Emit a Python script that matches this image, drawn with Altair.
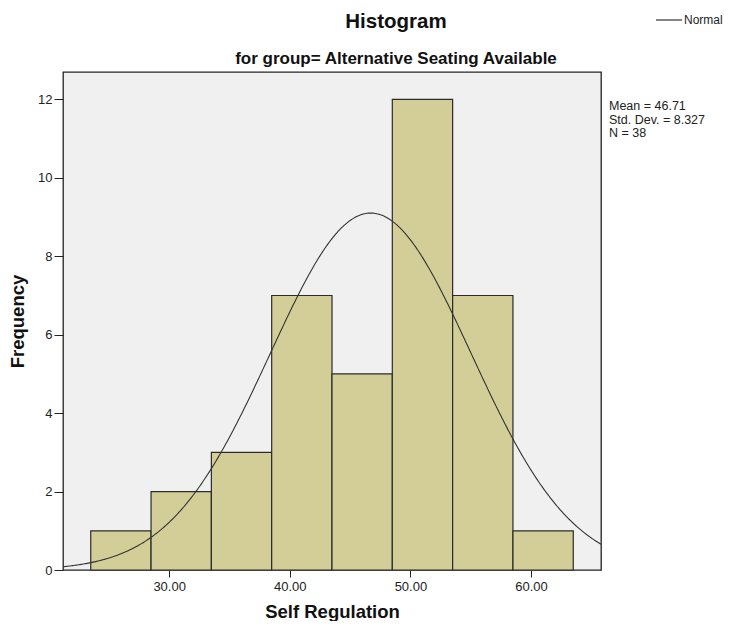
import altair as alt
import pandas as pd

# ---- data ----
bin_start = [23.5, 28.5, 33.5, 38.5, 43.5, 48.5, 53.5, 58.5]
bin_end = [28.5, 33.5, 38.5, 43.5, 48.5, 53.5, 58.5, 63.5]
counts = [1, 2, 3, 7, 5, 12, 7, 1]
x_ticks = [30, 40, 50, 60]
y_ticks = [0, 2, 4, 6, 8, 10, 12]
mean = 46.71
sd = 8.327
n = 38
bin_width = 5
stats_lines = ["Mean = 46.71", "Std. Dev. = 8.327", "N = 38"]
title_text = "Histogram"
subtitle_text = "for group= Alternative Seating Available"
legend_label = "Normal"

FONT = "Liberation Sans"

bars_df = pd.DataFrame({"start": bin_start, "end": bin_end, "count": counts})
one = pd.DataFrame({"k": [0]})

xscale = alt.Scale(domain=[21.2, 65.8], nice=False, zero=False)
yscale = alt.Scale(domain=[0, 12.7], nice=False)

xaxis = alt.Axis(values=x_ticks, format=".2f", title="Self Regulation", grid=False,
                 domain=False, tickColor="#222", tickSize=7, labelFontSize=13,
                 labelColor="#222", labelFont=FONT, labelPadding=3,
                 titleFont=FONT, titleFontSize=18.5, titleFontWeight="bold",
                 titleColor="#111", titlePadding=9)
yaxis = alt.Axis(values=y_ticks, title="Frequency", grid=False, domain=False,
                 tickColor="#222", tickSize=9, labelFontSize=13, labelColor="#222",
                 labelFont=FONT, labelPadding=2, titleFont=FONT, titleFontSize=18.5,
                 titleFontWeight="bold", titleColor="#111", titlePadding=10)

bars = alt.Chart(bars_df).mark_rect(fill="#d3ce97", stroke="#2b2b2b", strokeWidth=1.2).encode(
    x=alt.X("start:Q", scale=xscale, axis=xaxis),
    x2="end:Q",
    y=alt.Y("count:Q", scale=yscale, axis=yaxis),
    y2=alt.datum(0),
)

curve = alt.Chart(alt.sequence(21.2, 65.85, 0.1, as_="x")).transform_calculate(
    y=f"{n * bin_width} * exp(-0.5 * pow((datum.x - {mean}) / {sd}, 2)) / ({sd} * sqrt(2 * PI))",
).mark_line(strokeWidth=1.1, clip=True, color="#333333").encode(
    x=alt.X("x:Q", scale=xscale),
    y=alt.Y("y:Q", scale=yscale),
)

stats = alt.Chart(pd.DataFrame({"t": [stats_lines]})).mark_text(
    align="left", baseline="top", font=FONT, fontSize=12.5, color="#222", lineHeight=13.5
).encode(text="t:N", x=alt.value(546), y=alt.value(28))

title = alt.Chart(pd.DataFrame({"t": [title_text]})).mark_text(
    align="center", baseline="middle", font=FONT, fontSize=20.5, fontWeight="bold", color="#111"
).encode(text="t:N", x=alt.value(333), y=alt.value(-50))

subtitle = alt.Chart(pd.DataFrame({"t": [subtitle_text]})).mark_text(
    align="center", baseline="middle", font=FONT, fontSize=17, fontWeight="bold", color="#111"
).encode(text="t:N", x=alt.value(333), y=alt.value(-13))

leg_line = alt.Chart(one).mark_rule(color="#333333", strokeWidth=1.2).encode(
    x=alt.value(593), x2=alt.value(619), y=alt.value(-52)
)
leg_text = alt.Chart(pd.DataFrame({"t": [legend_label]})).mark_text(
    align="left", baseline="middle", font=FONT, fontSize=12, color="#222"
).encode(text="t:N", x=alt.value(621), y=alt.value(-52))

chart = alt.layer(bars, curve, stats, title, subtitle, leg_line, leg_text).properties(
    width=538, height=498,
    padding={"left": 55, "top": 64, "right": 124, "bottom": 51},
    autosize=alt.AutoSizeParams(type="none"),
).configure_view(fill="#f0f0f0", stroke="#222", strokeWidth=1.3)

chart.save("out.html", embed_options={"renderer": "svg", "actions": False})
